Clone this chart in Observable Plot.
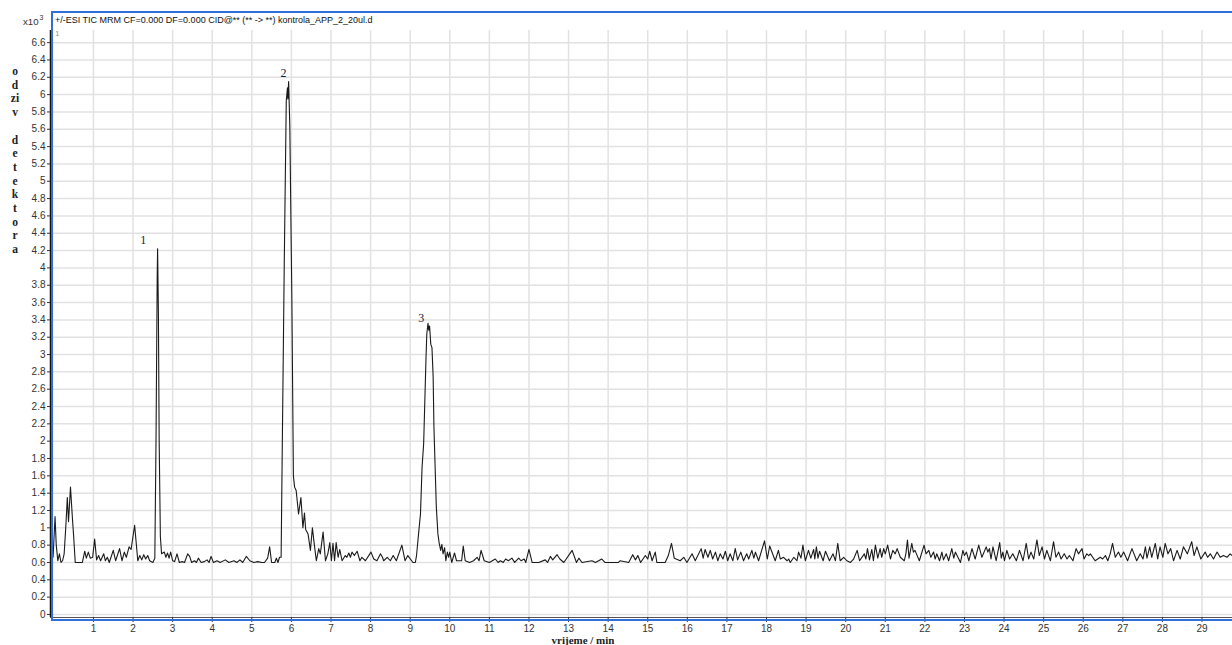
<!DOCTYPE html>
<html>
<head>
<meta charset="utf-8">
<script src="https://cdn.jsdelivr.net/npm/d3@7"></script>
<script src="https://cdn.jsdelivr.net/npm/@observablehq/plot@0.6"></script>
<style>
  html, body { margin: 0; padding: 0; background: #fff; }
  #wrap { position: relative; width: 1232px; height: 645px; overflow: hidden; }
  #chart { position: absolute; left: 0; top: 0; }
  .ov { position: absolute; white-space: nowrap; }
  #frame { position: absolute; left: 51px; top: 11px; width: 1300px; height: 606px;
           border: 2px solid #2f6fd8; border-right: none; pointer-events: none; }
  #hdr { left: 55px; top: 15px; font: 9px "Liberation Sans", Arial, sans-serif; color: #111; }
  #scale { left: 23px; top: 15px; font: 9.6px "Liberation Sans", Arial, sans-serif; color: #333; }
  #scale sup { font-size: 7px; position: relative; top: -1px; margin-left: 1px; }
  #one { left: 55px; top: 29px; font: 8px "Liberation Sans", Arial, sans-serif; color: #999; }
  #ylab { left: 6px; top: 65px; width: 18px; text-align: center;
          font: bold 11.5px "Liberation Serif", "Times New Roman", serif; color: #222; line-height: 13.7px; }
  #xlab { left: 0; width: 1166px; top: 634px; text-align: center;
          font: bold 11px "Liberation Serif", "Times New Roman", serif; color: #222; }
</style>
</head>
<body>
<div id="wrap">
  <div id="chart"></div>
  <div id="frame"></div>
  <div class="ov" id="scale">x10<sup>3</sup></div>
  <div class="ov" id="hdr">+/-ESI TIC MRM CF=0.000 DF=0.000 CID@** (** -&gt; **) kontrola_APP_2_20ul.d</div>
  <div class="ov" id="one">1</div>
  <div class="ov" id="ylab"></div>
  <div class="ov" id="xlab">vrijeme / min</div>
</div>
<script>
// ---- data (time in min, response in x10^3) ----
const segStart = [[-0.02,0.66],[0.03,1.13],[0.06,0.8],[0.1,0.62],[0.14,0.7],[0.18,0.6],[0.22,0.62],[0.26,0.7],[0.3,1.0],[0.34,1.35],[0.37,1.07],[0.42,1.47],[0.47,1.1],[0.5,0.9],[0.54,0.6],[0.72,0.6],[0.78,0.73],[0.82,0.65],[0.87,0.72],[0.92,0.65],[0.98,0.66],[1.03,0.87],[1.08,0.63],[1.13,0.68],[1.18,0.62],[1.26,0.70],[1.3,0.62],[1.35,0.66],[1.4,0.6],[1.5,0.74],[1.56,0.62],[1.66,0.76],[1.72,0.62],[1.78,0.72],[1.83,0.66],[1.9,0.78],[1.95,0.75],[2.04,1.03],[2.12,0.62],[2.17,0.68],[2.22,0.63],[2.27,0.69],[2.32,0.64],[2.37,0.68],[2.42,0.62],[2.5,0.6]];
const peak1 = [[2.55,0.65],[2.58,2.0],[2.61,3.9],[2.62,4.22],[2.64,3.5],[2.66,2.0],[2.69,0.9],[2.72,0.7]];
const segAfter1 = [[2.79,0.72],[2.83,0.66],[2.87,0.71],[2.91,0.65],[2.95,0.72],[3.0,0.62],[3.05,0.61],[3.11,0.70],[3.17,0.6],[3.24,0.61],[3.3,0.6],[3.38,0.7],[3.43,0.67],[3.48,0.6],[3.55,0.62],[3.6,0.6],[3.65,0.65],[3.72,0.6],[3.8,0.61],[3.87,0.63],[3.92,0.6],[3.97,0.67],[4.03,0.6],[4.12,0.62],[4.2,0.6],[4.33,0.63],[4.42,0.6],[4.55,0.62],[4.62,0.6],[4.7,0.63],[4.77,0.6],[4.86,0.67],[4.95,0.62],[5.05,0.6],[5.15,0.61],[5.25,0.6],[5.32,0.6],[5.4,0.65],[5.45,0.78],[5.5,0.6],[5.58,0.6],[5.62,0.65],[5.66,0.6],[5.7,0.66],[5.74,0.66]];
const peak2 = [[5.77,1.97],[5.82,4.08],[5.87,5.93],[5.9,6.08],[5.91,5.95],[5.93,6.15],[5.96,5.62],[6.01,3.7],[6.05,1.6],[6.08,1.47],[6.12,1.43],[6.18,1.16],[6.24,1.35],[6.29,1.0],[6.33,1.17],[6.36,0.98],[6.42,0.93],[6.48,0.74],[6.53,1.0],[6.58,0.8],[6.63,0.62],[6.69,0.76],[6.73,0.7],[6.8,0.95],[6.86,0.62],[6.92,0.7]];
const segAfter2 = [[6.97,0.83],[7.01,0.62],[7.05,0.82],[7.09,0.62],[7.13,0.83],[7.18,0.66],[7.22,0.75],[7.28,0.62],[7.36,0.68],[7.4,0.66],[7.45,0.71],[7.49,0.66],[7.53,0.72],[7.59,0.68],[7.66,0.73],[7.73,0.62],[7.78,0.66],[7.87,0.62],[8.01,0.72],[8.08,0.64],[8.16,0.62],[8.25,0.70],[8.3,0.66],[8.33,0.62],[8.42,0.66],[8.5,0.62],[8.57,0.68],[8.65,0.62],[8.79,0.8],[8.87,0.62],[8.94,0.68],[9.07,0.6],[9.13,0.6]];
const peak3 = [[9.16,0.68],[9.22,0.97],[9.26,1.16],[9.3,1.70],[9.34,1.97],[9.37,2.47],[9.4,2.97],[9.42,3.24],[9.45,3.36],[9.47,3.28],[9.49,3.33],[9.52,3.12],[9.55,3.08],[9.58,2.74],[9.6,2.16],[9.63,1.7],[9.66,1.24],[9.7,0.93],[9.73,0.83],[9.77,0.74],[9.8,0.81],[9.83,0.7]];
const segAfter3 = [[9.87,0.77],[9.9,0.62],[9.94,0.72],[9.97,0.66],[10.0,0.72],[10.05,0.6],[10.12,0.71],[10.17,0.62],[10.3,0.62],[10.34,0.79],[10.39,0.62],[10.5,0.6],[10.6,0.62],[10.69,0.66],[10.74,0.62],[10.79,0.74],[10.87,0.62],[11.0,0.6],[11.15,0.64],[11.22,0.6],[11.28,0.62],[11.35,0.6],[11.41,0.64],[11.48,0.62],[11.57,0.65],[11.64,0.6],[11.74,0.65],[11.8,0.62],[11.88,0.64],[11.92,0.6],[12.0,0.75],[12.08,0.6],[12.25,0.6],[12.41,0.63],[12.47,0.6],[12.54,0.67],[12.6,0.63],[12.71,0.69],[12.78,0.64],[12.88,0.6],[13.09,0.74],[13.2,0.6],[13.26,0.65],[13.34,0.6],[13.59,0.62],[13.68,0.6],[13.84,0.64],[13.92,0.6],[14.26,0.6],[14.3,0.62],[14.52,0.6],[14.62,0.69],[14.69,0.63],[14.75,0.68],[14.82,0.6],[14.94,0.68],[15.0,0.64],[15.05,0.73],[15.11,0.62],[15.19,0.72],[15.23,0.6],[15.44,0.6],[15.52,0.68],[15.6,0.82],[15.67,0.65],[15.82,0.62],[15.91,0.66],[15.99,0.6],[16.12,0.7],[16.2,0.62],[16.35,0.76],[16.4,0.65],[16.45,0.75],[16.52,0.66],[16.58,0.74],[16.64,0.64],[16.71,0.72],[16.77,0.62],[16.83,0.7],[16.9,0.64],[16.96,0.73],[17.02,0.62],[17.08,0.7],[17.15,0.62],[17.21,0.76],[17.27,0.63],[17.35,0.72],[17.42,0.62],[17.5,0.7],[17.55,0.64],[17.63,0.74],[17.68,0.65],[17.72,0.72],[17.8,0.62],[17.95,0.85],[18.02,0.64],[18.08,0.79],[18.22,0.62],[18.3,0.74]];
const segLate = [[18.35,0.64],[18.43,0.66],[18.52,0.62],[18.56,0.64],[18.6,0.6],[18.69,0.66],[18.77,0.62],[18.81,0.72],[18.87,0.65],[18.92,0.8],[18.98,0.62],[19.06,0.74],[19.12,0.65],[19.19,0.75],[19.22,0.64],[19.26,0.78],[19.3,0.65],[19.34,0.73],[19.43,0.62],[19.49,0.73],[19.59,0.62],[19.68,0.7],[19.74,0.62],[19.8,0.82],[19.86,0.62],[19.95,0.66],[20.03,0.62],[20.12,0.6],[20.2,0.64],[20.29,0.74],[20.35,0.62],[20.47,0.7],[20.51,0.64],[20.55,0.76],[20.6,0.63],[20.66,0.75],[20.7,0.62],[20.75,0.8],[20.81,0.65],[20.87,0.76],[20.91,0.66],[20.96,0.76],[21.0,0.7],[21.06,0.8],[21.13,0.64],[21.19,0.74],[21.25,0.7],[21.3,0.76],[21.38,0.66],[21.48,0.62],[21.52,0.7],[21.56,0.86],[21.6,0.65],[21.67,0.82],[21.71,0.72],[21.75,0.74],[21.86,0.62],[21.98,0.8],[22.03,0.7],[22.1,0.74],[22.15,0.66],[22.22,0.72],[22.26,0.64],[22.3,0.7],[22.37,0.62],[22.43,0.72],[22.47,0.63],[22.54,0.7],[22.6,0.62],[22.68,0.76],[22.73,0.65],[22.77,0.72],[22.9,0.6],[22.96,0.74],[23.0,0.68],[23.05,0.72],[23.11,0.62],[23.19,0.76],[23.27,0.64],[23.36,0.8],[23.44,0.66],[23.55,0.78],[23.59,0.72],[23.63,0.76],[23.67,0.64],[23.72,0.78],[23.8,0.62],[23.89,0.83],[23.93,0.65],[23.97,0.72],[24.01,0.62],[24.07,0.74],[24.14,0.64],[24.22,0.7],[24.31,0.62],[24.39,0.74],[24.48,0.62],[24.56,0.82],[24.62,0.64],[24.68,0.72],[24.75,0.64],[24.83,0.86],[24.89,0.68],[24.96,0.78],[25.02,0.64],[25.08,0.74],[25.17,0.62],[25.25,0.84],[25.31,0.66],[25.38,0.72],[25.44,0.64],[25.52,0.7],[25.59,0.64],[25.65,0.68],[25.74,0.62],[25.82,0.76],[25.88,0.7],[25.97,0.76],[26.02,0.64],[26.09,0.7],[26.14,0.68],[26.18,0.7],[26.3,0.62],[26.43,0.66],[26.49,0.64],[26.56,0.68],[26.62,0.62],[26.68,0.7],[26.74,0.82],[26.81,0.66],[26.89,0.72],[26.95,0.66],[27.02,0.72],[27.12,0.62],[27.23,0.76],[27.35,0.62],[27.44,0.7],[27.51,0.64],[27.57,0.78],[27.61,0.65],[27.68,0.78],[27.73,0.66],[27.82,0.82],[27.88,0.64],[27.94,0.78],[28.01,0.66],[28.07,0.82],[28.14,0.7],[28.21,0.76],[28.28,0.62],[28.37,0.74],[28.45,0.64],[28.53,0.78],[28.63,0.7],[28.74,0.84],[28.8,0.68],[28.87,0.78],[28.97,0.64],[29.08,0.72],[29.14,0.66],[29.21,0.7],[29.29,0.64],[29.38,0.72],[29.46,0.66],[29.54,0.68],[29.63,0.66],[29.71,0.7],[29.76,0.68]];

const peakNames = ["1", "2", "3"];
const peakLabelTime = [2.26, 5.80, 9.28];
const peakLabelHeight = [4.32, 6.25, 3.42];

const xTicks = [1,2,3,4,5,6,7,8,9,10,11,12,13,14,15,16,17,18,19,20,21,22,23,24,25,26,27,28,29];
const yTicks = [0,0.2,0.4,0.6,0.8,1,1.2,1.4,1.6,1.8,2,2.2,2.4,2.6,2.8,3,3.2,3.4,3.6,3.8,4,4.2,4.4,4.6,4.8,5,5.2,5.4,5.6,5.8,6,6.2,6.4,6.6];
const xDomain = [-0.085, 29.77];
const yDomain = [-0.035, 6.74];
const yLabelLetters = ["o","d","zi","v","","d","e","t","e","k","t","o","r","a"];

// ---- build ----
const trace = [...segStart, ...peak1, ...segAfter1, ...peak2, ...segAfter2, ...peak3, ...segAfter3, ...segLate]
  .map(([t, v]) => ({t, v}));
const peaks = peakNames.map((name, i) => ({name, t: peakLabelTime[i], v: peakLabelHeight[i]}));

document.getElementById("ylab").innerHTML = yLabelLetters.map(s => s === "" ? "&nbsp;" : s).join("<br>");

const chart = Plot.plot({
  width: 1232,
  height: 645,
  marginLeft: 50,
  marginRight: 0,
  marginTop: 30,
  marginBottom: 28,
  style: {fontFamily: "'Liberation Sans', Arial, sans-serif", fontSize: "10px", color: "#333", background: "transparent"},
  x: {domain: xDomain, label: null},
  y: {domain: yDomain, label: null},
  marks: [
    Plot.gridX(xTicks, {stroke: "#e2e2e2", strokeOpacity: 1, strokeWidth: 1.5}),
    Plot.gridY(yTicks, {stroke: "#e2e2e2", strokeOpacity: 1, strokeWidth: 1.5}),
    Plot.ruleX([xDomain[0]], {stroke: "#111", strokeWidth: 1.5}),
    Plot.ruleY([yDomain[0]], {stroke: "#555", strokeWidth: 1}),
    Plot.line(trace, {x: "t", y: "v", stroke: "#1a1a1a", strokeWidth: 1.1}),
    Plot.text(peaks, {x: "t", y: "v", text: "name", fill: "#1a1a40", fontSize: 12, fontFamily: "'Liberation Serif', 'Times New Roman', serif"}),
    Plot.axisX(xTicks, {tickSize: 5, tickPadding: 2, tickFormat: d => String(d), fill: "#333", stroke: "#333"}),
    Plot.axisY(yTicks, {tickSize: 3, tickPadding: 2, tickFormat: d => String(+d.toFixed(1)), fill: "#333", stroke: "#333"})
  ]
});
document.getElementById("chart").appendChild(chart);
</script>
</body>
</html>
